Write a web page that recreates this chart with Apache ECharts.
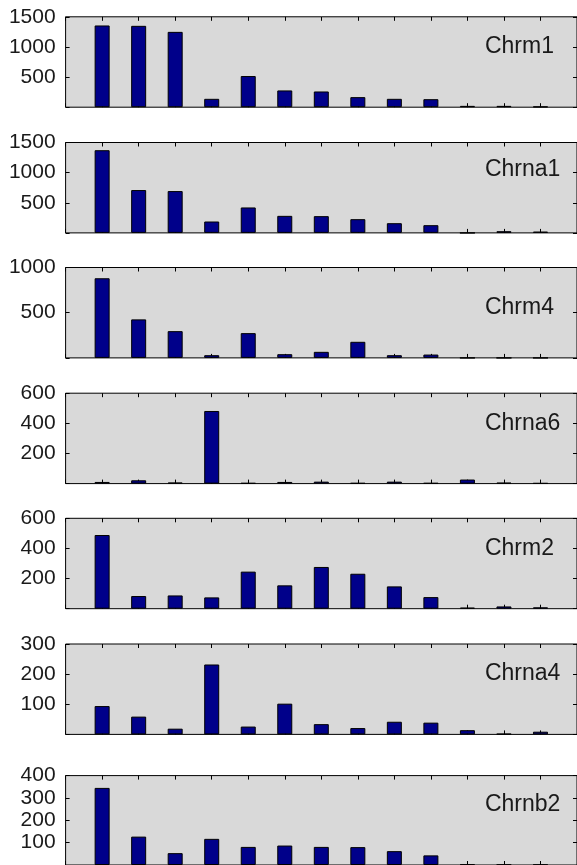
<!DOCTYPE html>
<html>
<head>
<meta charset="utf-8">
<script src="https://cdn.jsdelivr.net/npm/echarts@6/dist/echarts.min.js"></script>
<style>
  html, body { margin: 0; padding: 0; background: #fff; }
  #chart { width: 577px; height: 865px; }
</style>
</head>
<body>
<div id="chart"></div>
<script>
// Receptor gene names, one panel each
const genes = ['Chrm1', 'Chrna1', 'Chrm4', 'Chrna6', 'Chrm2', 'Chrna4', 'Chrnb2'];

// Bar positions along the x axis (13 samples)
const positions = [1, 2, 3, 4, 5, 6, 7, 8, 9, 10, 11, 12, 13];

// Counts per sample for each gene
const chrm1  = [1356, 1350, 1250, 139, 517, 278, 261, 167, 139, 133, 22, 22, 11];
const chrna1 = [1372, 711, 694, 189, 422, 283, 278, 228, 161, 128, 0, 28, 22];
const chrm4  = [881, 426, 296, 30, 274, 41, 67, 178, 30, 37, 0, 0, 0];
const chrna6 = [11, 22, 7, 482, 4, 11, 13, 4, 13, 4, 27, 6, 3];
const chrm2  = [489, 84, 88, 75, 246, 155, 277, 232, 148, 77, 7, 15, 9];
const chrna4 = [94, 59, 19, 232, 26, 102, 34, 21, 42, 39, 14, 2, 9];
const chrnb2 = [345, 127, 53, 117, 81, 87, 81, 80, 62, 43, 3, 2, 2];

// Y-axis ranges (max, tick step) per panel
const yMax  = [1500, 1500, 1000, 600, 600, 300, 400];
const yStep = [500, 500, 500, 200, 200, 100, 100];

const series = [chrm1, chrna1, chrm4, chrna6, chrm2, chrna4, chrnb2];

// Layout of the stacked panels; the right frame edge sits just past the canvas
const panelTops = [16.8, 142.5, 267.5, 393.2, 518.3, 644, 775.6];
const panelHeight = 90.4;
const plotLeft = 65.6;
const plotRight = -2.6;
const xMax = 14;
const nameAnchor = [1000, 1050, 560, 400, 400, 200, 270]; // height of the gene label
const nameX = 11.48;

const font = '"Liberation Sans", Arial, Helvetica, sans-serif';
const ink = '#1a1a1a';

const grids = [], xAxes = [], yAxes = [], allSeries = [];

genes.forEach((gene, k) => {
  grids.push({
    left: plotLeft, right: plotRight, top: panelTops[k],
    height: panelHeight,
    show: true, backgroundColor: '#d9d9d9',
    borderColor: '#000', borderWidth: 1
  });
  const tick = { show: true, inside: true, length: 4, lineStyle: { color: '#000', width: 1 } };
  const xBase = {
    gridIndex: k, type: 'value', min: 0, max: xMax, interval: 1,
    axisLine: { show: false, onZero: false },
    axisTick: tick,
    axisLabel: { show: false }, splitLine: { show: false }
  };
  xAxes.push(Object.assign({ position: 'bottom' }, xBase));
  xAxes.push(Object.assign({ position: 'top' }, xBase));

  const yBase = {
    gridIndex: k, type: 'value', min: 0, max: yMax[k], interval: yStep[k],
    axisLine: { show: false, onZero: false },
    axisTick: tick,
    splitLine: { show: false }
  };
  yAxes.push(Object.assign({ position: 'left',
    axisLabel: { show: true, margin: 10, fontSize: 21, fontFamily: font, color: ink,
      formatter: v => (v === 0 ? '' : String(v)) } }, yBase));
  yAxes.push(Object.assign({ position: 'right', axisLabel: { show: false } }, yBase));

  allSeries.push({
    type: 'bar',
    name: gene,
    xAxisIndex: 2 * k, yAxisIndex: 2 * k,
    barWidth: 15,
    data: positions.map((p, i) => [p, series[k][i]]),
    itemStyle: { color: '#00008a', borderColor: '#000', borderWidth: 1 },
    emphasis: { disabled: true },
    silent: true,
    markPoint: {
      symbol: 'circle', symbolSize: 0, silent: true,
      data: [{ coord: [nameX, nameAnchor[k]] }],
      label: { show: true, position: 'right', distance: 0, formatter: gene,
        fontSize: 23, fontFamily: font, color: ink }
    }
  });
});

const chart = echarts.init(document.getElementById('chart'), null, { renderer: 'canvas' });
chart.setOption({
  animation: false,
  backgroundColor: '#fff',
  grid: grids, xAxis: xAxes, yAxis: yAxes, series: allSeries
});
</script>
</body>
</html>
